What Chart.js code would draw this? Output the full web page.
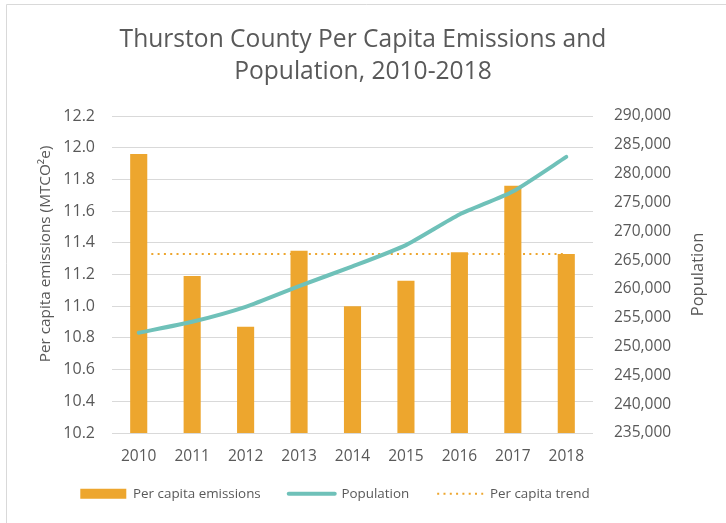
<!DOCTYPE html>
<html>
<head>
<meta charset="utf-8">
<script src="https://cdn.jsdelivr.net/npm/chart.js@4/dist/chart.umd.min.js"></script>
<style>
    html, body { margin: 0; padding: 0; background: #fff; }
    #wrap { width: 726px; height: 523px; }
</style>
</head>
<body>
<div id="wrap"><canvas id="emissionsChart" width="726" height="523"></canvas></div>
<script>
const years = ['2010', '2011', '2012', '2013', '2014', '2015', '2016', '2017', '2018'];
const perCapita = [11.96, 11.19, 10.87, 11.35, 11.00, 11.16, 11.34, 11.76, 11.33];
const population = [252400, 254300, 256900, 260500, 263900, 267600, 272900, 276900, 282900];
const perCapitaTrend = [11.33, 11.33, 11.33, 11.33, 11.33, 11.33, 11.33, 11.33, 11.33];

const emissionsRange = [10.2, 12.2, 0.2];
const populationRange = [235000, 290000, 5000];

const chartTitle = ['Thurston County Per Capita Emissions and', 'Population, 2010-2018'];
const leftTitle = 'Per capita emissions (MTCO\u00B2e)';
const rightTitle = 'Population';

const ORANGE = '#eda62e';
const TEAL = '#6fc1b9';
const GREY_TEXT = '#595959';
const GRID = '#d9d9d9';

Chart.defaults.font.family = "'Open Sans', sans-serif";
Chart.defaults.color = GREY_TEXT;

// thin frame along the top and left edge
const chartFrame = {
    id: 'chartFrame',
    beforeDraw(chart) {
        const ctx = chart.ctx;
        ctx.save();
        ctx.strokeStyle = GRID;
        ctx.lineWidth = 1;
        ctx.beginPath();
        ctx.moveTo(6.5, chart.height);
        ctx.lineTo(6.5, 4.5);
        ctx.lineTo(chart.width, 4.5);
        ctx.stroke();
        ctx.restore();
    }
};

// both axis titles read bottom-to-top
const axisTitles = {
    id: 'axisTitles',
    afterDraw(chart) {
        const ctx = chart.ctx;
        const drawRotated = (text, size, x, y) => {
            ctx.save();
            ctx.font = size + "px 'Open Sans'";
            ctx.translate(x, y);
            ctx.rotate(-Math.PI / 2);
            ctx.textAlign = 'center';
            ctx.textBaseline = 'middle';
            ctx.fillText(text, 0, 0);
            ctx.restore();
        };
        ctx.save();
        ctx.fillStyle = GREY_TEXT;
        drawRotated(leftTitle, 15.3, 46, 254);
        drawRotated(rightTitle, 16.5, 698, (chart.chartArea.top + chart.chartArea.bottom) / 2);
        ctx.restore();
    }
};

// legend sits a little left of centre
const legendOffset = {
    id: 'legendOffset',
    afterLayout(chart) {
        const lg = chart.legend;
        lg.left -= 28; lg.right -= 28;
        lg.top -= 6; lg.bottom -= 6;
    }
};

new Chart(document.getElementById('emissionsChart'), {
    data: {
        labels: years,
        datasets: [
            {
                type: 'bar',
                label: 'Per capita emissions',
                data: perCapita,
                backgroundColor: ORANGE,
                yAxisID: 'y',
                order: 1,
                categoryPercentage: 1,
                barPercentage: 0.32
            },
            {
                type: 'line',
                label: 'Population',
                data: population,
                borderColor: TEAL,
                borderWidth: 4,
                borderCapStyle: 'round',
                pointRadius: 0,
                tension: 0.2,
                yAxisID: 'y1',
                order: 0
            },
            {
                type: 'line',
                label: 'Per capita trend',
                data: perCapitaTrend,
                borderColor: ORANGE,
                borderWidth: 2,
                borderDash: [2, 4.3],
                pointRadius: 0,
                yAxisID: 'y',
                order: 2
            }
        ]
    },
    options: {
        responsive: false,
        animation: false,
        layout: { padding: { top: 0, bottom: 8, left: 0, right: 0 } },
        plugins: {
            title: {
                display: true,
                text: chartTitle,
                color: GREY_TEXT,
                font: { size: 24.6, weight: 'normal', lineHeight: '32px' },
                padding: { top: 24, bottom: 28 }
            },
            legend: {
                position: 'bottom',
                maxHeight: 50,
                labels: {
                    usePointStyle: true,
                    pointStyleWidth: 46,
                    boxHeight: 10,
                    padding: 28,
                    color: GREY_TEXT,
                    font: { size: 13.4 },
                    generateLabels: () => [
                        { text: 'Per capita emissions', datasetIndex: 0, pointStyle: 'rect', fillStyle: ORANGE, strokeStyle: ORANGE, lineWidth: 0, fontColor: GREY_TEXT },
                        { text: 'Population', datasetIndex: 1, pointStyle: 'line', fillStyle: TEAL, strokeStyle: TEAL, lineWidth: 4, lineCap: 'round', fontColor: GREY_TEXT },
                        { text: 'Per capita trend', datasetIndex: 2, pointStyle: 'line', fillStyle: ORANGE, strokeStyle: ORANGE, lineWidth: 2, lineDash: [2, 4.3], fontColor: GREY_TEXT }
                    ]
                }
            },
            tooltip: { enabled: false }
        },
        scales: {
            x: {
                grid: { display: false },
                border: { display: false },
                ticks: { font: { size: 15.5 }, padding: 6 },
                afterFit(scale) { scale.height = 32; }
            },
            y: {
                position: 'left',
                min: emissionsRange[0],
                max: emissionsRange[1],
                grid: { color: GRID, drawTicks: false },
                border: { display: false },
                ticks: {
                    stepSize: emissionsRange[2],
                    font: { size: 16 },
                    padding: 17,
                    callback: v => v.toFixed(1)
                },
                afterFit(scale) { scale.width = 112; }
            },
            y1: {
                position: 'right',
                min: populationRange[0],
                max: populationRange[1],
                grid: { display: false, drawTicks: false },
                border: { display: false },
                ticks: {
                    stepSize: populationRange[2],
                    font: { size: 15.5 },
                    padding: 21,
                    callback: v => v.toLocaleString('en-US')
                },
                afterFit(scale) { scale.width = 133; }
            }
        }
    },
    plugins: [chartFrame, axisTitles, legendOffset]
});
</script>
</body>
</html>
